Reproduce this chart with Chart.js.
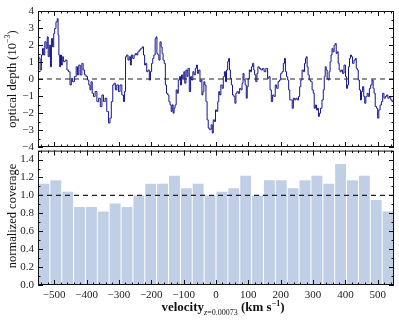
<!DOCTYPE html>
<html>
<head>
<meta charset="utf-8">
<script src="https://cdn.jsdelivr.net/npm/chart.js@4.4.1/dist/chart.umd.min.js"></script>
<style>
  body { margin: 0; background: #fff; }
  #wrap { position: relative; width: 399px; height: 322px; font-family: "Liberation Serif", serif; color: #111; }
  canvas { position: absolute; left: 0; }
  .ylab { position: absolute; white-space: nowrap; font-size: 12.5px; transform: translate(-50%, -50%) rotate(-90deg); }
  .xlab { position: absolute; white-space: nowrap; font-size: 13px; transform: translate(-50%, -50%); }
  sup, sub { font-size: 8px; line-height: 0; }
</style>
</head>
<body>
<div id="wrap">
  <canvas id="coverChart" width="399" height="182" style="top:140px"></canvas>
  <canvas id="depthChart" width="399" height="162" style="top:0"></canvas>
  <div class="ylab" style="left:12px; top:79px">optical depth (10<sup>&minus;3</sup>)</div>
  <div class="ylab" style="left:12px; top:216px">normalized coverage</div>
  <div class="xlab" style="left:223px; top:307px"><b>velocity</b><sub><i>z</i>=0.00073</sub> <b>(km s<sup>&minus;1</sup>)</b></div>
</div>
<script>
// velocity grid (km/s) and optical depth (1e-3)
const VELOCITY = [
  -550, -548, -546, -541, -538, -534, -531, -527, -523, -520, -517, -513, -510, -507, -503, -500,
  -497, -492, -489, -487, -484, -482, -479, -476, -474, -469, -463, -458, -453, -449, -445, -441,
  -434, -430, -426, -422, -417, -412, -409, -404, -399, -395, -391, -388, -384, -381, -376, -371,
  -365, -360, -355, -350, -345, -340, -335, -329, -326, -321, -317, -313, -309, -304, -299, -294,
  -288, -284, -281, -278, -274, -270, -266, -263, -260, -255, -251, -247, -243, -240, -235, -230,
  -226, -222, -219, -216, -212, -208, -204, -201, -197, -194, -190, -186, -184, -181, -178, -175,
  -171, -168, -165, -162, -158, -155, -151, -147, -144, -140, -137, -134, -131, -128, -125, -121,
  -118, -115, -111, -108, -105, -101, -98, -95, -91, -88, -85, -80, -77, -73, -70, -66,
  -62, -59, -56, -51, -48, -45, -42, -39, -36, -33, -29, -26, -22, -17, -13, -10,
  -7, -3, 0, 4, 7, 10, 13, 17, 21, 24, 28, 31, 34, 38, 40, 43,
  46, 49, 53, 57, 60, 63, 67, 71, 75, 79, 82, 85, 88, 92, 95, 98,
  101, 105, 108, 111, 115, 118, 121, 125, 128, 131, 136, 141, 146, 151, 157, 162,
  165, 169, 173, 177, 181, 185, 190, 194, 198, 202, 206, 210, 213, 216, 220, 223,
  226, 230, 234, 237, 241, 245, 249, 253, 257, 260, 264, 268, 272, 275, 278, 280,
  283, 286, 290, 295, 299, 302, 305, 309, 312, 315, 318, 321, 325, 330, 333, 336,
  339, 342, 345, 348, 351, 354, 357, 360, 363, 367, 370, 373, 376, 379, 382, 385,
  389, 393, 398, 402, 405, 408, 411, 414, 417, 420, 424, 429, 432, 435, 438, 441,
  445, 448, 451, 455, 458, 461, 465, 469, 472, 476, 480, 484, 487, 490, 494, 498,
  501, 505, 509, 513, 517, 521, 525, 529, 533, 538, 542, 545, 550
];
const DEPTH = [
  1.30, 1.31, 1.21, 0.53, 1.41, 1.80, 1.41, 2.19, 1.80, 2.48, 1.31, 1.99, 0.72, 2.38, 1.89, 2.67,
  2.97, 3.36, 3.55, 2.58, 1.41, 0.72, 1.41, 0.82, 1.31, 1.02, 1.11, 0.53, 0.43, -0.35, 0.04, -0.16,
  0.14, 0.72, 0.24, 0.82, 0.24, 0.92, 0.53, 0.24, 0.14, -0.06, -0.35, -0.64, -0.16, -0.84, -1.03, -0.74,
  -1.33, -1.13, -1.62, -0.94, -1.33, -1.13, -1.91, -2.59, -2.30, -1.33, -0.35, -0.25, -0.64, -0.35, -0.74, -0.35,
  -0.94, -1.33, -0.74, 1.31, 1.41, 1.11, 1.31, 0.82, 1.41, 1.21, 1.41, 1.50, 1.41, 1.60, 1.70, 1.80,
  1.89, 1.41, 0.82, 0.92, 0.43, 0.53, -0.06, 0.43, 0.92, 1.21, 1.41, 2.38, 2.48, 1.50, 1.41, 1.11,
  2.19, 1.89, 1.50, 1.11, 0.92, -0.35, -0.84, -0.94, -1.33, -1.52, -1.91, -1.52, -2.01, -1.72, -1.52, -0.64,
  -0.84, -0.06, 0.14, -0.35, 0.24, 0.04, 0.43, -0.25, 0.53, 0.14, 0.63, -0.74, 0.14, -0.06, 0.43, 0.24,
  0.63, 0.82, 0.33, 0.53, -0.16, -0.06, -0.94, -0.74, -0.16, -0.35, -1.33, -2.40, -2.89, -2.98, -2.69, -3.18,
  -2.40, -2.50, -1.82, -1.91, -1.33, -0.74, -0.94, -0.35, -0.55, 0.14, 0.43, -0.16, 0.53, 1.02, 1.21, 0.53,
  0.04, -0.35, -0.94, -1.03, -1.43, -0.84, -0.74, -0.84, -0.55, -0.64, -0.25, 0.33, -0.06, -0.35, -1.13, -0.45,
  0.04, 0.53, 0.43, 0.72, 0.92, 0.53, 0.24, -0.16, 0.33, 0.72, 0.62, 0.53, 0.62, 0.43, 0.62, 0.04,
  0.14, -0.64, -1.33, -0.94, -1.03, -0.35, -0.55, -0.15, -0.06, 0.33, 0.43, 0.92, 1.21, 0.43, 0.14, -0.06,
  -0.64, -1.23, -1.23, -1.72, -1.13, -1.23, -1.13, -1.23, -1.03, -0.45, -0.06, 0.53, 0.43, 0.92, 1.21, 1.31,
  0.72, 0.24, -0.06, -0.15, -0.64, -0.84, -1.72, -1.53, -1.82, -1.72, -2.20, -2.01, -1.72, -1.23, -0.64, 0.14,
  0.72, 0.53, 0.04, -0.06, 0.43, 1.01, 1.41, 1.80, 1.60, 1.99, 2.09, 1.50, 1.60, 0.92, 0.53, 0.43,
  0.53, 0.33, 0.82, 0.14, -0.55, -0.35, 0.72, 1.21, 1.41, 1.31, 0.92, 1.11, 1.21, 0.62, 0.53, -0.06,
  -0.64, -1.23, -0.74, -0.45, -1.03, -1.43, -1.03, -0.84, -1.03, -0.55, -0.35, -0.06, -0.55, -0.84, -1.62, -1.72,
  -2.30, -1.82, -1.53, -1.33, -0.84, -1.13, -1.03, -0.94, -1.13, -1.03, -1.23, -1.33, -1.20
];

// coverage histogram: bin centres (km/s) and normalized coverage
const BIN_CENTERS = [
  -531.7, -495.0, -458.3, -421.7, -385.0, -348.3, -311.7, -275.0, -238.3, -201.7,
  -165.0, -128.3, -91.7, -55.0, -18.3, 18.3, 55.0, 91.7, 128.3, 165.0,
  201.7, 238.3, 275.0, 311.7, 348.3, 385.0, 421.7, 458.3, 495.0, 531.7
];
const COVERAGE = [
  1.13, 1.17, 1.04, 0.87, 0.87, 0.82, 0.91, 0.87, 1.00, 1.13,
  1.13, 1.22, 1.08, 1.13, 1.00, 1.04, 1.08, 1.22, 1.00, 1.17,
  1.17, 1.08, 1.17, 1.22, 1.13, 1.35, 1.17, 1.22, 0.95, 0.82
];

// axes
const X_RANGE = [-550, 550];
const X_TICKS = [-500, -400, -300, -200, -100, 0, 100, 200, 300, 400, 500];
const DEPTH_TICKS = [-4, -3, -2, -1, 0, 1, 2, 3, 4];
const COVER_TICKS = [0, 0.2, 0.4, 0.6, 0.8, 1.0, 1.2, 1.4];
const DEPTH_REF = 0;
const COVER_REF = 1.0;

const minus = s => String(s).replace('-', '\u2212');
const steps = (a, b, d) => { const out = []; for (let v = a; v <= b + 1e-9; v += d) out.push(+v.toFixed(3)); return out; };

// frame + inward ticks on all four sides (matplotlib style)
const frameTicks = {
  id: 'frameTicks',
  afterDatasetsDraw(chart, args, o) {
    const { ctx, chartArea: a, scales } = chart;
    const seg = (x1, y1, x2, y2) => { ctx.beginPath(); ctx.moveTo(x1, y1); ctx.lineTo(x2, y2); ctx.stroke(); };
    ctx.save();
    ctx.strokeStyle = '#111';
    ctx.lineWidth = 1;
    const xt = (v, len) => {
      const p = Math.round(scales.x.getPixelForValue(v)) + 0.5;
      seg(p, a.top, p, a.top + len);
      seg(p, a.bottom, p, a.bottom - len);
    };
    const yt = (v, len) => {
      const p = Math.round(scales.y.getPixelForValue(v)) + 0.5;
      seg(a.left, p, a.left + len, p);
      seg(a.right, p, a.right - len, p);
    };
    o.xMinor.forEach(v => xt(v, 2.5));
    X_TICKS.forEach(v => xt(v, 5));
    o.yMinor.forEach(v => yt(v, 2.5));
    o.yMajor.forEach(v => yt(v, 5));
    ctx.strokeRect(a.left + 0.5, a.top + 0.5, a.right - a.left - 1, a.bottom - a.top - 1);
    ctx.restore();
  }
};

const tickFont = { family: 'Liberation Serif', size: 11 };

new Chart(document.getElementById('depthChart'), {
  type: 'line',
  data: {
    datasets: [
      {
        data: [{ x: X_RANGE[0], y: DEPTH_REF }, { x: X_RANGE[1], y: DEPTH_REF }],
        borderColor: '#222',
        borderWidth: 1.2,
        borderDash: [5, 4],
        pointRadius: 0,
        order: 0
      },
      {
        data: VELOCITY.map((v, i) => ({ x: v, y: DEPTH[i] })),
        borderColor: '#14148c',
        borderWidth: 1,
        stepped: 'middle',
        pointRadius: 0,
        order: 1
      }
    ]
  },
  options: {
    responsive: false,
    animation: false,
    devicePixelRatio: 1,
    layout: { padding: { top: 11, bottom: 15, left: 0, right: 5 } },
    plugins: {
      legend: { display: false },
      tooltip: { enabled: false },
      frameTicks: { xMinor: steps(-540, 540, 20), yMajor: DEPTH_TICKS, yMinor: steps(-3.5, 3.5, 0.5) }
    },
    scales: {
      x: { type: 'linear', display: false, min: X_RANGE[0], max: X_RANGE[1] },
      y: {
        min: -4, max: 4,
        grid: { display: false, drawTicks: false },
        border: { display: false },
        afterFit: s => { s.width = 38; },
        afterBuildTicks: s => { s.ticks = DEPTH_TICKS.map(v => ({ value: v })); },
        ticks: { font: tickFont, color: '#222', padding: 4, callback: v => minus(v) }
      }
    }
  },
  plugins: [frameTicks]
});

new Chart(document.getElementById('coverChart'), {
  type: 'bar',
  data: {
    datasets: [
      {
        type: 'line',
        data: [{ x: X_RANGE[0], y: COVER_REF }, { x: X_RANGE[1], y: COVER_REF }],
        borderColor: '#222',
        borderWidth: 1.2,
        borderDash: [5, 4],
        pointRadius: 0,
        order: 0
      },
      {
        type: 'bar',
        data: BIN_CENTERS.map((c, i) => ({ x: c, y: COVERAGE[i] })),
        backgroundColor: 'rgb(192,207,229)',
        borderWidth: 0,
        categoryPercentage: 1,
        barPercentage: 0.92,
        order: 1
      }
    ]
  },
  options: {
    responsive: false,
    animation: false,
    devicePixelRatio: 1,
    layout: { padding: { top: 8, bottom: 0, left: 0, right: 5 } },
    plugins: {
      legend: { display: false },
      tooltip: { enabled: false },
      frameTicks: { xMinor: steps(-540, 540, 20), yMajor: COVER_TICKS, yMinor: steps(0.1, 1.5, 0.2) }
    },
    scales: {
      x: {
        type: 'linear', offset: false, min: X_RANGE[0], max: X_RANGE[1],
        grid: { display: false, drawTicks: false },
        border: { display: false },
        afterFit: s => { s.height = 37; },
        afterBuildTicks: s => { s.ticks = X_TICKS.map(v => ({ value: v })); },
        ticks: { font: tickFont, color: '#222', padding: 4, maxRotation: 0, callback: v => minus(v) }
      },
      y: {
        min: 0, max: 1.5,
        grid: { display: false, drawTicks: false },
        border: { display: false },
        afterFit: s => { s.width = 38; },
        afterBuildTicks: s => { s.ticks = COVER_TICKS.map(v => ({ value: v })); },
        ticks: { font: tickFont, color: '#222', padding: 4, callback: v => v.toFixed(1) }
      }
    }
  },
  plugins: [frameTicks]
});
</script>
</body>
</html>
